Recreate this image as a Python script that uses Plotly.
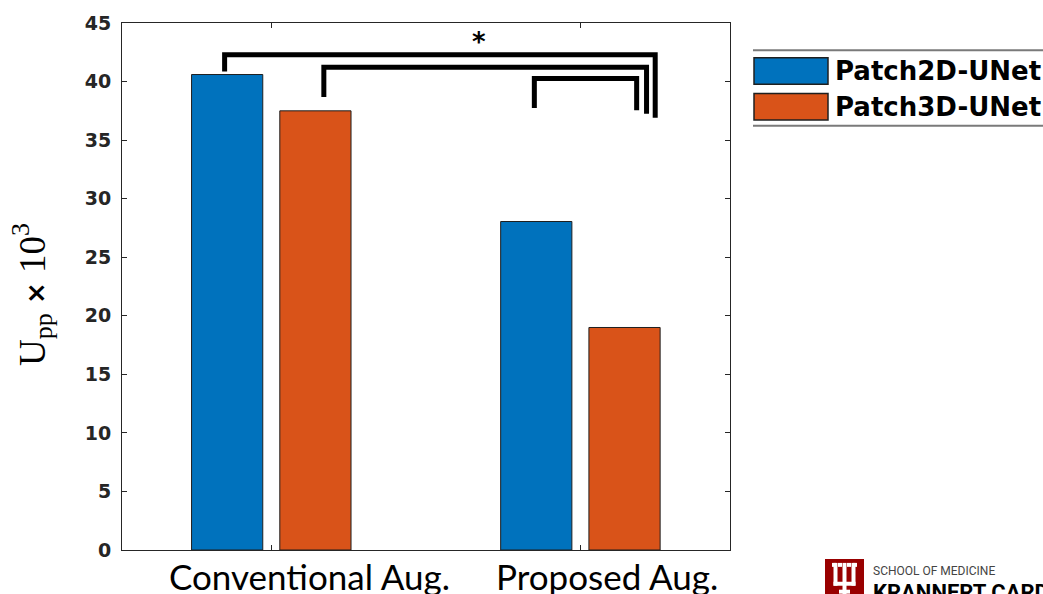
import plotly.graph_objects as go

# ---------------- data ----------------
categories = ["Conventional Aug.", "Proposed Aug."]
series_names = ["Patch2D-UNet", "Patch3D-UNet"]
patch2d_values = [40.6, 28.05]
patch3d_values = [37.5, 19.0]
y_ticks = [0, 5, 10, 15, 20, 25, 30, 35, 40, 45]

colors = ["#0072BD", "#D95319"]

# significance brackets: (x_left, y_left_bottom, x_right, y_right_bottom, y_top)
brackets = [
    (-0.151, 40.86, 1.242, 36.90, 42.28),
    (0.170, 38.68, 1.214, 37.26, 41.22),
    (0.851, 37.74, 1.182, 37.55, 40.27),
]
star_pos = (0.673, 43.4)

W, H = 1043, 594
PL, PR, PT, PB = 122, 730, 19, 550


def px(x):
    return (x - PL) / (PR - PL)


def py(y):
    return (PB - y) / (PB - PT)


xs = list(range(len(categories)))

fig = go.Figure()
for name, vals, col in zip(series_names, [patch2d_values, patch3d_values], colors):
    fig.add_trace(go.Bar(
        x=xs, y=vals, name=name, showlegend=False,
        marker=dict(color=col, line=dict(color="#1f1f1f", width=1)),
    ))

shapes = []
for (xl, yl, xr, yr, yt) in brackets:
    shapes.append(dict(
        type="path", xref="x", yref="y",
        path=f"M {xl} {yl} L {xl} {yt} L {xr} {yt} L {xr} {yr}",
        line=dict(color="black", width=5),
    ))

# legend (manual)
for yy in (46.5, 122.5):
    shapes.append(dict(type="line", xref="paper", yref="paper",
                       x0=px(753), x1=px(1050), y0=py(yy), y1=py(yy),
                       line=dict(color="#7a7a7a", width=2)))
sw_rows = [(54, 80.7), (90, 116.7)]
annotations = []
for (y0, y1), col, name in zip(sw_rows, colors, series_names):
    shapes.append(dict(type="rect", xref="paper", yref="paper",
                       x0=px(754), x1=px(828), y0=py(y1), y1=py(y0),
                       fillcolor=col, line=dict(color="#1f1f1f", width=1.5)))
    annotations.append(dict(xref="paper", yref="paper", x=px(833), y=py((y0 + y1) / 2),
                            xanchor="left", yanchor="middle", showarrow=False,
                            text=f"<b>{name}</b>",
                            font=dict(family="DejaVu Sans", size=26, color="black")))

# logo
shapes.append(dict(type="rect", xref="paper", yref="paper", layer="above",
                   x0=px(825), x1=px(864), y0=py(600), y1=py(559),
                   fillcolor="#990000", line=dict(width=0)))
white_rects = [
    (832, 836, 563, 567), (838, 842, 563, 567), (847, 851, 563, 567), (853, 857, 563, 567),
    (833.5, 837.5, 563, 586), (851.5, 855.5, 563, 586),
    (842.5, 846.5, 563, 600), (833.5, 855.5, 582, 586),
    (839, 850, 590, 594),
]
for x0, x1, y0, y1 in white_rects:
    shapes.append(dict(type="rect", xref="paper", yref="paper", layer="above",
                       x0=px(x0), x1=px(x1), y0=py(y1), y1=py(y0),
                       fillcolor="white", line=dict(width=0)))
annotations.append(dict(xref="paper", yref="paper", x=px(871), y=py(571.5),
                        xanchor="left", yanchor="middle", showarrow=False,
                        text="SCHOOL OF MEDICINE",
                        font=dict(family="Roboto", size=12, color="#444444")))
annotations.append(dict(xref="paper", yref="paper", x=px(871), y=py(578),
                        xanchor="left", yanchor="top", showarrow=False,
                        text="<b>KRANNERT CARDIO</b>",
                        font=dict(family="Roboto", size=22, color="black")))

# star
annotations.append(dict(xref="x", yref="y", x=star_pos[0], y=star_pos[1],
                        showarrow=False, text="<b>*</b>",
                        font=dict(family="DejaVu Sans", size=26, color="black")))

# category labels (shifted text boxes)
label_shift = [38, 27]
for i, (cat, sh) in enumerate(zip(categories, label_shift)):
    annotations.append(dict(xref="x", yref="paper", x=xs[i], xshift=sh, y=py(576),
                            xanchor="center", yanchor="middle", showarrow=False,
                            text=cat, font=dict(family="Lato", size=35, color="black")))

# y title
annotations.append(dict(xref="paper", yref="paper", x=px(32), y=py(293),
                        xanchor="center", yanchor="middle", showarrow=False, textangle=-90,
                        text="U<sub>pp</sub> <span style='font-family:DejaVu Sans;font-weight:bold;font-size:26px'>×</span> 10<sup>3</sup>",
                        font=dict(family="Liberation Serif", size=37, color="black")))

fig.update_layout(
    width=W, height=H,
    margin=dict(l=PL, r=W - PR, t=PT, b=H - PB, pad=0),
    paper_bgcolor="white", plot_bgcolor="white",
    barmode="group", bargap=0.429, bargroupgap=0.193,
    shapes=shapes, annotations=annotations,
    showlegend=False,
)
fig.update_xaxes(range=[-0.483, 1.484], tickvals=xs, showticklabels=False,
                 ticks="inside", ticklen=5, tickcolor="#262626",
                 showline=True, linecolor="#262626", linewidth=1, mirror="ticks",
                 showgrid=False, zeroline=False)
fig.update_yaxes(range=[0, 45], tickvals=y_ticks, ticks="inside", ticklen=5,
                 tickcolor="#262626", showline=True, linecolor="#262626", linewidth=1,
                 mirror="ticks", showgrid=False, zeroline=False,
                 tickfont=dict(family="DejaVu Sans", size=19, color="#262626", weight="bold"),
                 ticklabelstandoff=6)

fig.write_html("out.html", config={"displayModeBar": False},
               post_script="document.body.style.margin='0';document.body.style.overflow='hidden';")
